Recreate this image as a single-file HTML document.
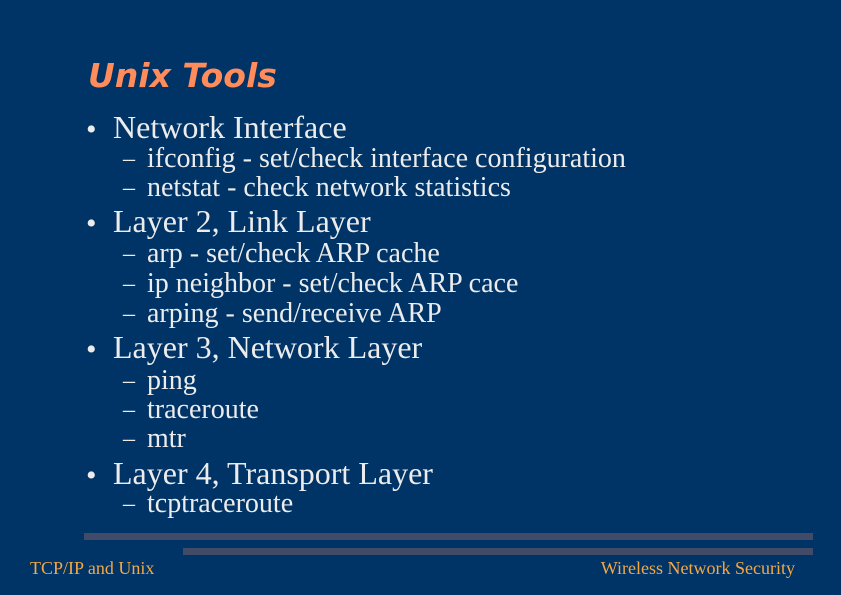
<!DOCTYPE html>
<html><head><meta charset="utf-8"><style>
html,body{margin:0;padding:0}
body{width:841px;height:595px;background:#003366;position:relative;overflow:hidden;font-family:"Liberation Serif",serif;color:#ececec}
.t{position:absolute;white-space:nowrap;line-height:1}
.m{font-size:32px}
.s{font-size:28px}
.b{position:absolute;left:86px;font-size:30px;top:4px}
.d{position:absolute;left:123px;font-size:24px;top:2px}
.bar{position:absolute;background:#414b67}
.f{position:absolute;font-size:18px;color:#f5a843;line-height:1;white-space:nowrap}
</style></head><body>
<div class="t" style="left:88px;top:59px;font-family:'DejaVu Sans',sans-serif;font-weight:bold;font-style:italic;font-size:33px;color:#ff8c5a">Unix Tools</div>

<div class="t m" style="top:111px"><span class="b">•</span><span style="position:absolute;left:113px">Network Interface</span></div>
<div class="t s" style="top:145px"><span class="d">–</span><span style="position:absolute;left:147px">ifconfig - set/check interface configuration</span></div>
<div class="t s" style="top:174px"><span class="d">–</span><span style="position:absolute;left:147px">netstat - check network statistics</span></div>
<div class="t m" style="top:205px"><span class="b">•</span><span style="position:absolute;left:113px">Layer 2, Link Layer</span></div>
<div class="t s" style="top:240px"><span class="d">–</span><span style="position:absolute;left:147px">arp - set/check ARP cache</span></div>
<div class="t s" style="top:270px"><span class="d">–</span><span style="position:absolute;left:147px">ip neighbor - set/check ARP cace</span></div>
<div class="t s" style="top:300px"><span class="d">–</span><span style="position:absolute;left:147px">arping - send/receive ARP</span></div>
<div class="t m" style="top:331px"><span class="b">•</span><span style="position:absolute;left:113px">Layer 3, Network Layer</span></div>
<div class="t s" style="top:367px"><span class="d">–</span><span style="position:absolute;left:147px">ping</span></div>
<div class="t s" style="top:396px"><span class="d">–</span><span style="position:absolute;left:147px">traceroute</span></div>
<div class="t s" style="top:425px"><span class="d">–</span><span style="position:absolute;left:147px">mtr</span></div>
<div class="t m" style="top:457px"><span class="b">•</span><span style="position:absolute;left:113px">Layer 4, Transport Layer</span></div>
<div class="t s" style="top:490px"><span class="d">–</span><span style="position:absolute;left:147px">tcptraceroute</span></div>

<div class="bar" style="left:84px;top:533px;width:729px;height:7px"></div>
<div class="bar" style="left:183px;top:548px;width:630px;height:7px"></div>
<div class="f" style="left:30px;top:559px">TCP/IP and Unix</div>
<div class="f" style="right:46px;top:559px">Wireless Network Security</div>
</body></html>
